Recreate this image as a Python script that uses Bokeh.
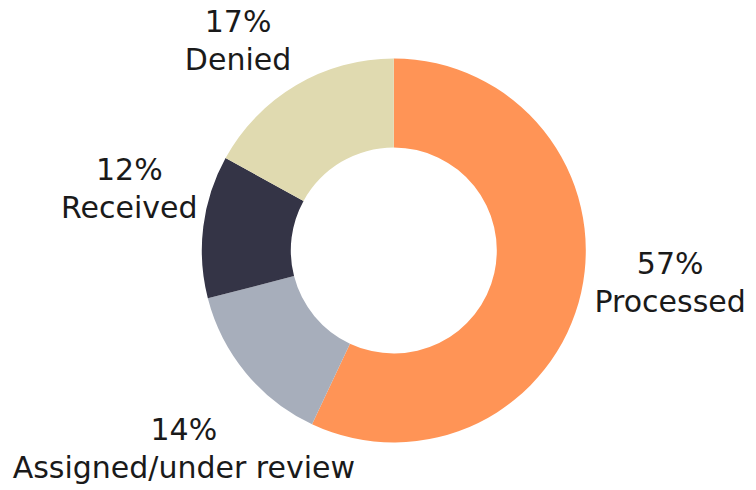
import math
from bokeh.plotting import figure
from bokeh.models import Range1d, ColumnDataSource
from bokeh.core.properties import value
from bokeh.embed import file_html
from bokeh.resources import INLINE

# ---- data ----
categories = ["Processed", "Assigned/under review", "Received", "Denied"]
percents = [57, 14, 12, 17]
colors = ["#FF9456", "#A7AEBB", "#343446", "#E0DAB0"]

# ---- label style offsets (screen px from the slice's outer mid-point) ----
label_dx = [89, -62, -74, -58]
label_dy = [-10, 76, -38, -45]
line_gap = 19

W, H = 756, 490
cx, cy = 393.3, 240.0
r_out, r_in = 192, 103

p = figure(width=W, height=H, output_backend="svg", toolbar_location=None,
           x_range=Range1d(0, W), y_range=Range1d(0, H), min_border=0,
           outline_line_color=None)
p.axis.visible = False
p.grid.visible = False

total = float(sum(percents))
starts, ends, ax, ay = [], [], [], []
cum = 0.0
for v in percents:
    a0 = cum / total * 2 * math.pi          # clockwise from top
    a1 = (cum + v) / total * 2 * math.pi
    starts.append(math.pi / 2 - a1)
    ends.append(math.pi / 2 - a0)
    mid = (a0 + a1) / 2
    ax.append(cx + r_out * math.sin(mid))
    ay.append(cy + r_out * math.cos(mid))
    cum += v

src = ColumnDataSource(dict(start=starts, end=ends, color=colors,
                            x=[cx] * len(percents), y=[cy] * len(percents)))
p.annular_wedge(x="x", y="y", inner_radius=r_in, outer_radius=r_out,
                start_angle="start", end_angle="end", fill_color="color",
                line_color=None, source=src)

lab = ColumnDataSource(dict(
    x=ax, y=ay,
    pct=[f"{v}%" for v in percents], name=categories,
    xo=label_dx,
    yo1=[d - line_gap for d in label_dy],
    yo2=[d + line_gap for d in label_dy],
))
common = dict(text_font=value("DejaVu Sans"), text_font_size="30px",
              text_color="#1a1a1a", text_align="center", text_baseline="middle")
p.text(x="x", y="y", text="pct", x_offset="xo", y_offset="yo1", source=lab, **common)
p.text(x="x", y="y", text="name", x_offset="xo", y_offset="yo2", source=lab, **common)

open("out.html", "w").write(file_html(p, INLINE))
